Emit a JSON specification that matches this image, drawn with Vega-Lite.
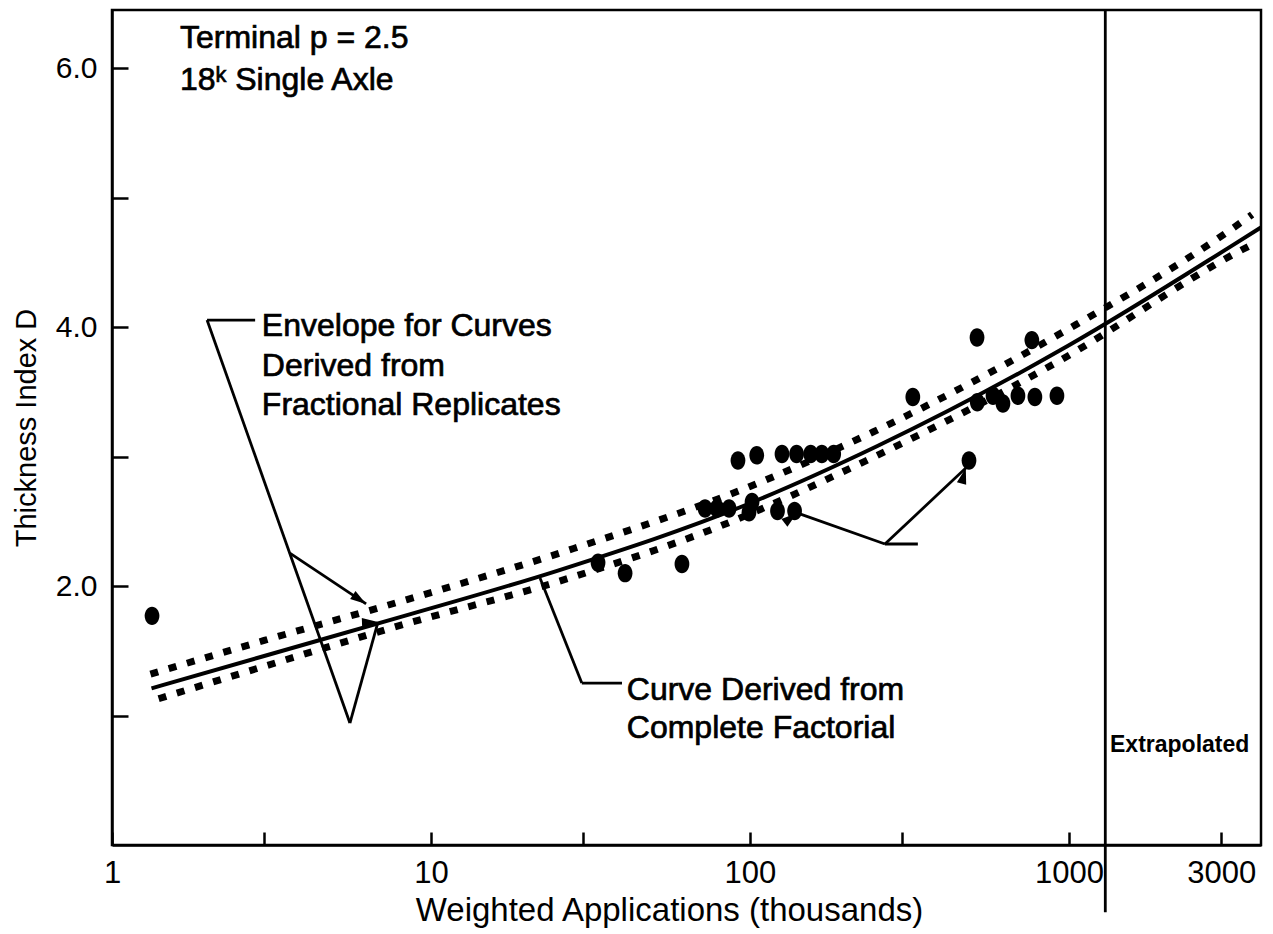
{
  "$schema": "https://vega.github.io/schema/vega-lite/v6.json",
  "width": 1149,
  "height": 835,
  "autosize": {"type": "none"},
  "padding": {"left": 112, "top": 10, "right": 12, "bottom": 89},
  "background": "white",
  "config": {
    "view": {"stroke": "black", "strokeWidth": 2.5},
    "font": "Liberation Sans",
    "axis": {
      "domainColor": "black", "domainWidth": 2.5, "tickColor": "black", "tickWidth": 2.5,
      "labelColor": "black", "titleColor": "black", "labelFont": "Liberation Sans", "titleFont": "Liberation Sans",
      "titleFontWeight": "normal", "grid": false
    }
  },
  "datasets": {
    "solid": [
      {"x": 1.33, "y": 1.21}, {"x": 3, "y": 1.46}, {"x": 8, "y": 1.76}, {"x": 25, "y": 2.12},
      {"x": 100, "y": 2.64}, {"x": 250, "y": 3.08}, {"x": 1000, "y": 3.86}, {"x": 3200, "y": 4.62}, {"x": 4000, "y": 4.77}
    ],
    "upper": [
      {"x": 1.32, "y": 1.32}, {"x": 3, "y": 1.58}, {"x": 8, "y": 1.88}, {"x": 28, "y": 2.29}, {"x": 100, "y": 2.77},
      {"x": 243, "y": 3.19}, {"x": 986, "y": 3.98}, {"x": 3200, "y": 4.75}, {"x": 3750, "y": 4.87}
    ],
    "lower": [
      {"x": 1.4, "y": 1.13}, {"x": 3, "y": 1.38}, {"x": 7.6, "y": 1.68}, {"x": 27, "y": 2.06}, {"x": 80, "y": 2.46},
      {"x": 241, "y": 2.99}, {"x": 903, "y": 3.72}, {"x": 3500, "y": 4.6}, {"x": 3900, "y": 4.66}
    ],
    "points": [
      {"x": 1.335, "y": 1.77}, {"x": 33.4, "y": 2.18}, {"x": 40.6, "y": 2.1}, {"x": 61.2, "y": 2.17},
      {"x": 91.7, "y": 2.97}, {"x": 105, "y": 3.01}, {"x": 126, "y": 3.02}, {"x": 140, "y": 3.02},
      {"x": 155, "y": 3.02}, {"x": 168, "y": 3.02}, {"x": 183, "y": 3.02},
      {"x": 72.3, "y": 2.6}, {"x": 78.8, "y": 2.6}, {"x": 86, "y": 2.6}, {"x": 99.3, "y": 2.57}, {"x": 101.5, "y": 2.65},
      {"x": 122, "y": 2.58}, {"x": 138, "y": 2.58},
      {"x": 324, "y": 3.46}, {"x": 515, "y": 3.92}, {"x": 516, "y": 3.42}, {"x": 578, "y": 3.47}, {"x": 621, "y": 3.41},
      {"x": 692, "y": 3.47}, {"x": 765, "y": 3.9}, {"x": 782, "y": 3.46}, {"x": 917, "y": 3.47}, {"x": 486, "y": 2.97}
    ],
    "segments": [
      {"x": 1.986, "y": 4.055, "x2": 2.81, "y2": 4.055},
      {"x": 1.986, "y": 4.055, "x2": 5.57, "y2": 0.942},
      {"x": 3.61, "y": 2.255, "x2": 6.26, "y2": 1.862},
      {"x": 5.57, "y": 0.942, "x2": 6.82, "y2": 1.722},
      {"x": 29.7, "y": 1.251, "x2": 39.7, "y2": 1.251},
      {"x": 29.7, "y": 1.251, "x2": 21.97, "y2": 2.062},
      {"x": 265, "y": 2.325, "x2": 336, "y2": 2.325},
      {"x": 265, "y": 2.325, "x2": 140.4, "y2": 2.565},
      {"x": 265, "y": 2.325, "x2": 475, "y2": 2.912},
      {"x": 1300, "y": 6.45, "x2": 1300, "y2": -0.52}
    ],
    "arrows": [
      {"arrow": "a", "x": 6.26, "y": 1.862},
      {"arrow": "b", "x": 6.82, "y": 1.722},
      {"arrow": "c", "x": 140.4, "y": 2.565},
      {"arrow": "d", "x": 475, "y": 2.912}
    ],
    "labels": [
      {"x": 1.633, "y": 6.23, "text": "Terminal p = 2.5", "kind": "n"},
      {"x": 1.633, "y": 5.91, "text": "18ᵏ Single Axle", "kind": "n"},
      {"x": 2.95, "y": 4.01, "text": "Envelope for Curves", "kind": "n"},
      {"x": 2.95, "y": 3.7, "text": "Derived from", "kind": "n"},
      {"x": 2.95, "y": 3.4, "text": "Fractional Replicates", "kind": "n"},
      {"x": 41.1, "y": 1.2, "text": "Curve Derived from", "kind": "n"},
      {"x": 41.1, "y": 0.9, "text": "Complete Factorial", "kind": "n"},
      {"x": 1345, "y": 0.77, "text": "Extrapolated", "kind": "b"}
    ]
  },
  "encoding": {
    "x": {
      "field": "x", "type": "quantitative",
      "scale": {"type": "log", "domain": [1, 4000], "nice": false},
      "axis": {
        "values": [1, 3, 10, 30, 100, 300, 1000, 3000],
        "labelExpr": "datum.value == 3 || datum.value == 30 || datum.value == 300 ? '' : format(datum.value, 'd')",
        "tickSize": -13, "labelPadding": 26, "labelFontSize": 31, "labelFlush": false,
        "title": "Weighted Applications (thousands)", "titleFontSize": 33, "titlePadding": 6, "titleX": 557
      }
    },
    "y": {
      "field": "y", "type": "quantitative",
      "scale": {"domain": [0, 6.45], "nice": false, "zero": false},
      "axis": {
        "values": [1, 2, 3, 4, 5, 6],
        "labelExpr": "datum.value % 2 == 0 ? format(datum.value, '.1f') : ''",
        "tickSize": -16, "labelPadding": 31, "labelFontSize": 30,
        "title": "Thickness Index D", "titleFontSize": 29, "titlePadding": 14
      }
    }
  },
  "layer": [
    {"data": {"name": "upper"}, "mark": {"type": "line", "color": "black", "strokeWidth": 7, "strokeDash": [8, 11], "interpolate": "monotone"}},
    {"data": {"name": "lower"}, "mark": {"type": "line", "color": "black", "strokeWidth": 7, "strokeDash": [8, 11], "interpolate": "monotone"}},
    {"data": {"name": "solid"}, "mark": {"type": "line", "color": "black", "strokeWidth": 4, "interpolate": "monotone"}},
    {"data": {"name": "segments"}, "mark": {"type": "rule", "color": "black", "strokeWidth": 2.8, "clip": false},
     "encoding": {"x2": {"field": "x2"}, "y2": {"field": "y2"}}},
    {"data": {"name": "arrows"}, "mark": {"type": "point", "filled": true, "color": "black", "opacity": 1, "shape": "M0,0L-0.6,2L0.6,2Z", "size": 256},
     "encoding": {"angle": {"field": "arrow", "type": "nominal", "scale": {"domain": ["a", "b", "c", "d"], "range": [124, 15.5, 289.4, 46.8]}, "legend": null}}},
    {"data": {"name": "points"}, "mark": {"type": "point", "filled": true, "color": "black", "opacity": 1, "shape": "M0,-1A0.8,1,0,1,1,0,1A0.8,1,0,1,1,0,-1Z", "size": 340}},
    {"data": {"name": "labels"}, "transform": [{"filter": "datum.kind == 'n'"}], "mark": {"type": "text", "align": "left", "baseline": "middle", "fontSize": 32, "color": "black", "stroke": "black", "strokeWidth": 0.7, "font": "Liberation Sans"},
     "encoding": {"text": {"field": "text"}}},
    {"data": {"name": "labels"}, "transform": [{"filter": "datum.kind == 'b'"}], "mark": {"type": "text", "align": "left", "baseline": "middle", "fontSize": 23, "fontWeight": "bold", "color": "black", "font": "Liberation Sans"},
     "encoding": {"text": {"field": "text"}}}
  ]
}
